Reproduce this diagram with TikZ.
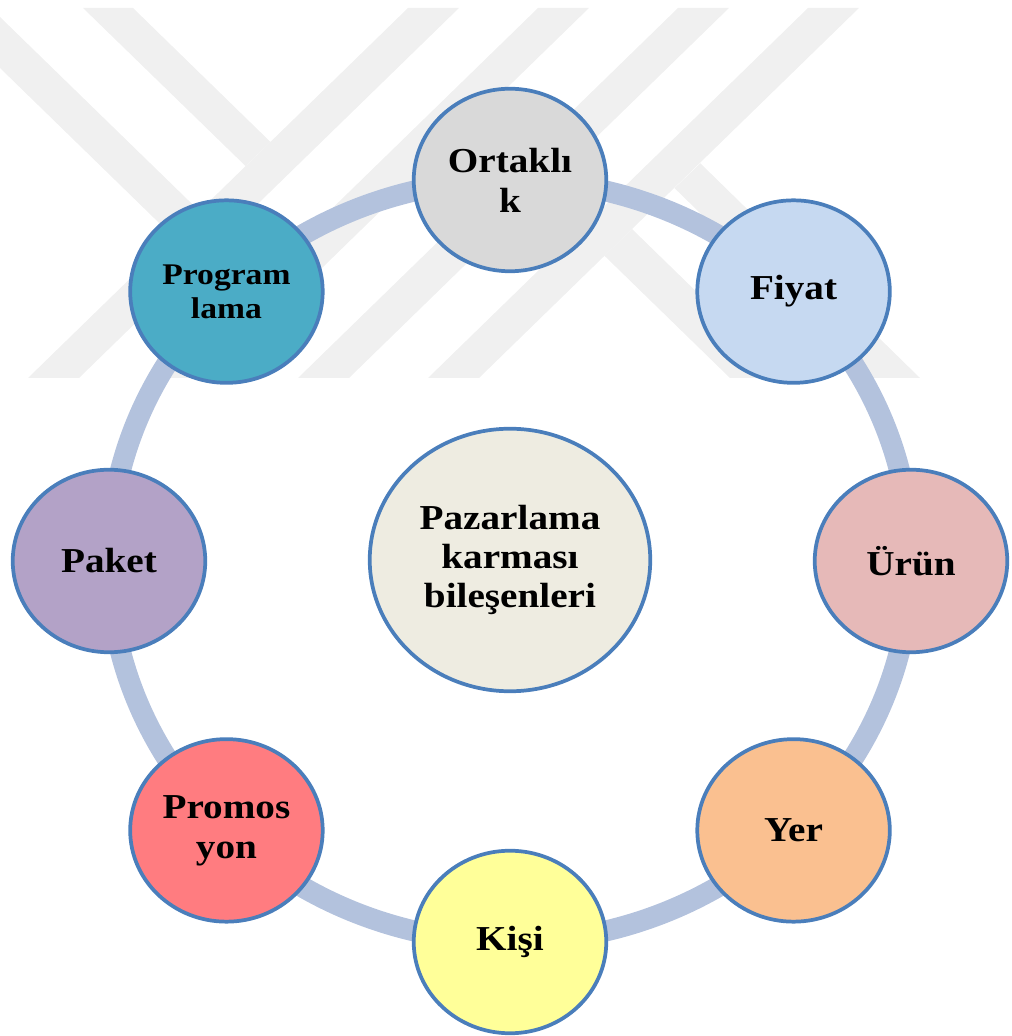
\documentclass[tikz,border=0pt]{standalone}
\usepackage{fontspec}
\setmainfont{Liberation Serif}[FakeStretch=1.12]
\usetikzlibrary{shapes.geometric}
\pgfdeclarelayer{wmark}
\pgfdeclarelayer{bg}
\pgfsetlayers{wmark,bg,main}
\definecolor{ringc}{RGB}{179,194,221}
\definecolor{bord}{RGB}{74,126,187}
\definecolor{wm}{RGB}{240,240,240}
\definecolor{ortc}{RGB}{217,217,217}
\definecolor{fiyc}{RGB}{198,217,241}
\definecolor{uruc}{RGB}{230,185,184}
\definecolor{yerc}{RGB}{250,192,144}
\definecolor{kisc}{RGB}{255,255,153}
\definecolor{proc}{RGB}{255,124,128}
\definecolor{pakc}{RGB}{179,162,199}
\definecolor{prgc}{RGB}{75,172,198}
\definecolor{cenc}{RGB}{238,236,225}
\begin{document}
\begin{tikzpicture}[x=0.75pt,y=0.75pt,
  bub/.style={ellipse, draw=bord, line width=2.8pt, minimum width=144.4pt,
    minimum height=136.9pt, inner sep=0pt, align=center,
    font=\bfseries\fontsize{26.25}{30}\selectfont},
  ringseg/.style={draw=ringc, line width=15.75pt}]
\useasboundingbox (0,0) rectangle (1011,1036);
\coordinate (O) at (510,475);
% nodes
\node[bub, fill=ortc] (ort) at ([shift={(90:401 and 381)}]O) {Ortaklı\\k};
\node[bub, fill=fiyc] (fiy) at ([shift={(45:401 and 381)}]O) {Fiyat};
\node[bub, fill=uruc] (uru) at ([shift={(0:401 and 381)}]O) {Ürün};
\node[bub, fill=yerc] (yer) at ([shift={(-45:401 and 381)}]O) {Yer};
\node[bub, fill=kisc] (kis) at ([shift={(-90:401 and 381)}]O) {Kişi};
\node[bub, fill=proc] (pro) at ([shift={(-135:401 and 381)}]O) {Promos\\yon};
\node[bub, fill=pakc] (pak) at ([shift={(180:401 and 381)}]O) {Paket};
\node[bub, fill=prgc, font=\bfseries\fontsize{22.5}{25.5}\selectfont] (prg) at ([shift={(135:401 and 381)}]O) {Program\\lama};
\node[bub, fill=cenc, minimum width=210.4pt, minimum height=196.9pt,
  font=\bfseries\fontsize{26.25}{28.9}\selectfont] (cen) at ([shift={(0,1)}]O) {Pazarlama\\karması\\bileşenleri};
% ring
\begin{pgfonlayer}{bg}
\draw[ringseg] (ort.center) arc[start angle=90, end angle=45, x radius=401, y radius=381];
\draw[ringseg] (fiy.center) arc[start angle=45, end angle=0, x radius=401, y radius=381];
\draw[ringseg] (uru.center) arc[start angle=0, end angle=-45, x radius=401, y radius=381];
\draw[ringseg] (yer.center) arc[start angle=-45, end angle=-90, x radius=401, y radius=381];
\draw[ringseg] (kis.center) arc[start angle=-90, end angle=-135, x radius=401, y radius=381];
\draw[ringseg] (pro.center) arc[start angle=-135, end angle=-180, x radius=401, y radius=381];
\draw[ringseg] (pak.center) arc[start angle=180, end angle=135, x radius=401, y radius=381];
\draw[ringseg] (prg.center) arc[start angle=135, end angle=90, x radius=401, y radius=381];
\end{pgfonlayer}
% watermark
\begin{pgfonlayer}{wmark}
\begin{scope}[shift={(0,1036)}, yscale=-1]
\fill[wm] (408,8) -- (459,8) -- (79,378) -- (28,378) -- cycle;
\fill[wm] (538,8) -- (589,8) -- (209,378) -- (158,378) -- cycle;
\fill[wm] (678,8) -- (729,8) -- (349,378) -- (298,378) -- cycle;
\fill[wm] (808,8) -- (859,8) -- (479,378) -- (428,378) -- cycle;
\fill[wm] (83,8) -- (133,8) -- (270.5,142) -- (245.5,166) -- cycle;
\fill[wm] (0,17) -- (199.4,211.1) -- (173.1,236.6) -- (0,68) -- cycle;
\fill[wm] (700.3,163.3) -- (920,378) -- (869,378) -- (674.5,188.1) -- cycle;
\fill[wm] (632,229) -- (785,378) -- (730,378) -- (604.5,255.8) -- cycle;
\end{scope}
\end{pgfonlayer}
\end{tikzpicture}
\end{document}
